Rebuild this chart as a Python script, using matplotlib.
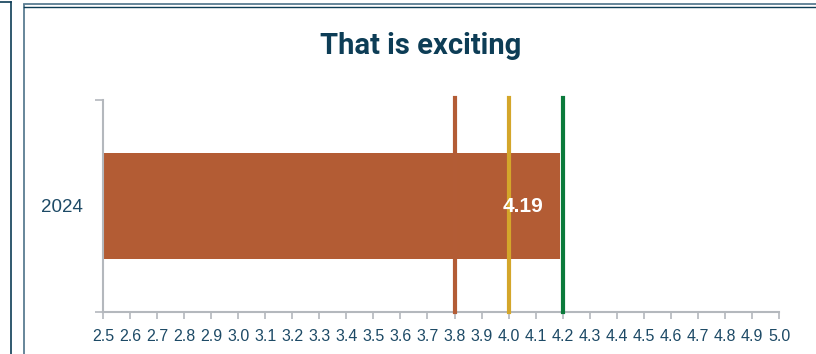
import matplotlib
matplotlib.use("Agg")
import matplotlib.pyplot as plt
from matplotlib.lines import Line2D

# data
categories = ["2024"]
values = [4.19]
ref_values = [3.8, 4.0, 4.2]
ref_colors = ["#b35c35", "#d4a62a", "#0b7a3b"]
title = "That is exciting"
xticks = [round(2.5 + 0.1 * i, 1) for i in range(26)]

navy = "#0d3d56"
label_col = "#1d4a66"
bar_col = "#b35c34"
grey = "#b4b8bd"

plt.rcParams["font.family"] = ["Liberation Sans", "DejaVu Sans"]

fig = plt.figure(figsize=(8.16, 3.54), dpi=100)
W, H = 816, 354

# frame lines of the card (screenshot borders)
def fx(px):
    return px / W

def fy(py):
    return 1 - py / H

frame = [
    ((0, 10.5), (1.5, 1.5), navy, 1.2),
    ((10.5, 10.5), (1.5, H), navy, 1.2),
    ((23.5, 23.5), (5, H), "#5a7d92", 1.3),
    ((23.5, W), (4, 4), "#5a7d92", 1.3),
    ((23.5, W), (6.5, 6.5), navy, 1.0),
]
for xs, ys, c, lw in frame:
    fig.add_artist(Line2D([fx(x) for x in xs], [fy(y) for y in ys], color=c, lw=lw))

ax = fig.add_axes([fx(103), fy(312), fx(779) - fx(103), fy(100) - fy(312)])

ax.barh(0, values[0], left=0, height=0.5, color=bar_col, zorder=2)
for v, c in zip(ref_values, ref_colors):
    ax.axvline(v, ymin=0, ymax=1.008, color=c, lw=3, zorder=3, clip_on=False)

for i, v in enumerate(values):
    ax.annotate(f"{v:.2f}", (v, i), xytext=(-17, 0), textcoords="offset pixels",
                ha="right", va="center", color="white", fontsize=15,
                fontweight="bold", zorder=4)

ax.set_xlim(2.5, 5.0)
ax.set_ylim(-0.5, 0.5)
ax.set_xticks(xticks)
ax.set_xticklabels([f"{t:.1f}" for t in xticks])
ax.set_yticks([0])
ax.set_yticklabels(categories)
ax.set_yticks([-0.5, 0.5], minor=True)

for s in ["top", "right"]:
    ax.spines[s].set_visible(False)
for s in ["left", "bottom"]:
    ax.spines[s].set_color(grey)
    ax.spines[s].set_linewidth(1.5)

ax.tick_params(axis="x", colors=grey, length=5, width=1.2, labelcolor=label_col,
               labelsize=11.5, pad=7)
ax.tick_params(axis="y", which="major", length=0, labelcolor=label_col,
               labelsize=13.5, pad=14.5)
ax.tick_params(axis="y", which="minor", colors=grey, length=6, width=1.2)

fig.text(fx(421), fy(46), title, ha="center", va="center", fontsize=21,
         fontweight="bold", color=navy, family=["Roboto", "DejaVu Sans"])

fig.savefig("out.png", dpi=100, facecolor="white")
